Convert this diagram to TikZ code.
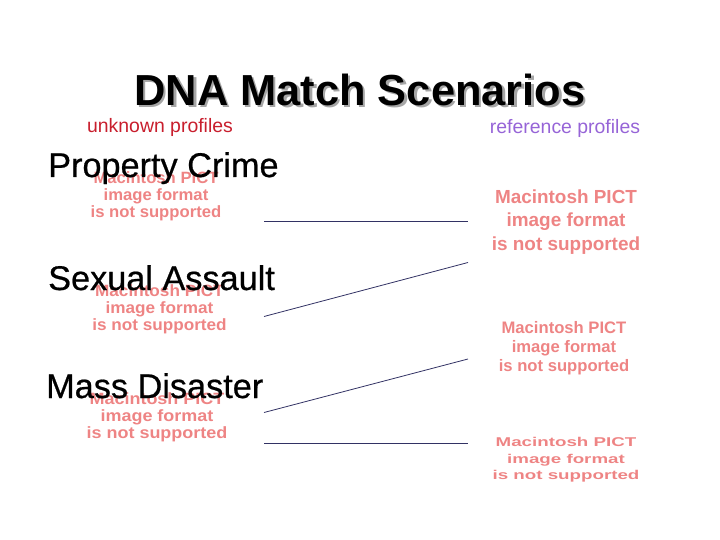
\documentclass[tikz,border=0pt]{standalone}
\usepackage{fontspec}
\setmainfont{Liberation Sans}
\newfontfamily\headfont[FakeBold=0.6]{Liberation Sans}
\usepackage{tikz}

\definecolor{unkred}{RGB}{200,30,45}
\definecolor{refpurple}{RGB}{150,100,215}
\definecolor{pictred}{RGB}{238,132,132}
\definecolor{linenavy}{RGB}{50,50,100}

\tikzset{
  pict/.style={text=pictred, font=\bfseries, align=center, inner sep=0pt},
  heading/.style={anchor=base west, inner sep=0pt, font=\headfont\fontsize{34.4}{40}\selectfont},
  match/.style={draw=linenavy, line width=0.8bp}
}

\begin{document}
\begin{tikzpicture}[x=1bp,y=-1bp]
  \useasboundingbox (0,0) rectangle (720,540);
  % title with shadow
  \node[anchor=base, inner sep=0pt, text=black!35, font=\bfseries\fontsize{43.6}{48}\selectfont]
    (shadow) at (362.5,108) {DNA Match Scenarios};
  \node[anchor=base, inner sep=0pt, font=\bfseries\fontsize{43.6}{48}\selectfont]
    (title) at (360,105.5) {DNA Match Scenarios};
  \node[anchor=base, text=unkred, font=\fontsize{19.5}{22}\selectfont] (unk) at (160,133) {unknown profiles};
  \node[anchor=base, text=refpurple, font=\fontsize{19.5}{22}\selectfont] (ref) at (565,134) {reference profiles};
  % placeholders, unknown side
  \node[pict, font=\bfseries\fontsize{16.4}{17}\selectfont, xscale=1.02, transform shape] (prop) at (156,196)
    {Macintosh PICT\\image format\\is not supported};
  \node[pict, font=\bfseries\fontsize{16.4}{17}\selectfont, xscale=1.05, transform shape] (sex) at (159.5,309)
    {Macintosh PICT\\image format\\is not supported};
  \node[pict, font=\bfseries\fontsize{16.4}{17}\selectfont, xscale=1.1, transform shape] (mass) at (157,417)
    {Macintosh PICT\\image format\\is not supported};
  % placeholders, reference side
  \node[pict, font=\bfseries\fontsize{19}{23.5}\selectfont] (refa) at (566,222)
    {Macintosh PICT\\image format\\is not supported};
  \node[pict, font=\bfseries\fontsize{16.7}{19}\selectfont] (refb) at (564,348)
    {Macintosh PICT\\image format\\is not supported};
  \node[pict, font=\bfseries\fontsize{12.8}{16.5}\selectfont, xscale=1.47, transform shape] (refc) at (566,460)
    {Macintosh PICT\\image format\\is not supported};
  % crime types
  \node[heading] (pc) at (48,177) {Property Crime};
  \node[heading] (sa) at (48,290) {Sexual Assault};
  \node[heading] (md) at (46,398) {Mass Disaster};
  % matches
  \coordinate (u1) at (264,221);
  \coordinate (r1) at (468,221);
  \coordinate (u2) at (264,316.5);
  \coordinate (r2) at (468,262.5);
  \coordinate (u3) at (264,412.5);
  \coordinate (r3) at (468,359);
  \coordinate (u4) at (264,443);
  \coordinate (r4) at (468,443);
  \draw[match] (u1) -- (r1);
  \draw[match] (u2) -- (r2);
  \draw[match] (u3) -- (r3);
  \draw[match] (u4) -- (r4);
\end{tikzpicture}
\end{document}
